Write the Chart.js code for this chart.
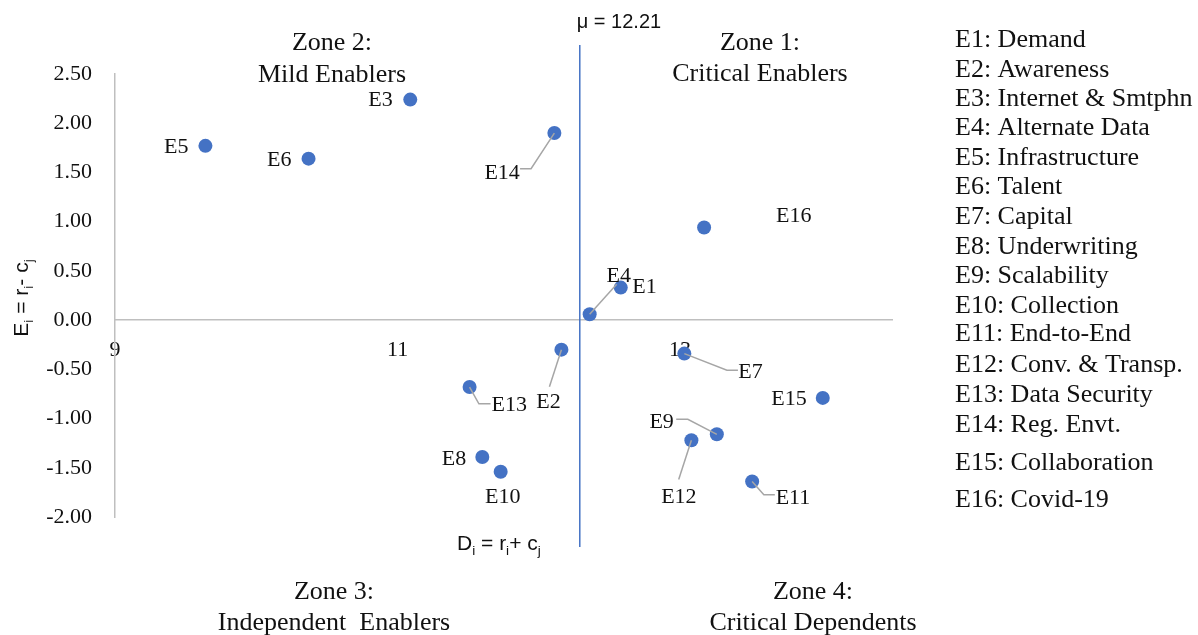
<!DOCTYPE html>
<html>
<head>
<meta charset="utf-8">
<script src="https://cdn.jsdelivr.net/npm/chart.js@4.4.1/dist/chart.umd.min.js"></script>
<style>
  html, body { margin: 0; padding: 0; background: #fff; }
  #wrap { width: 1198px; height: 635px; position: relative; }
</style>
</head>
<body>
<div id="wrap"><canvas id="irm"></canvas></div>
<script>
// enablers
const codes = ['E1', 'E2', 'E3', 'E4', 'E5', 'E6', 'E7', 'E8', 'E9', 'E10', 'E11', 'E12', 'E13', 'E14', 'E15', 'E16'];
const names = ['Demand', 'Awareness', 'Internet & Smtphn', 'Alternate Data', 'Infrastructure', 'Talent', 'Capital',
  'Underwriting', 'Scalability', 'Collection', 'End-to-End', 'Conv. & Transp.', 'Data Security', 'Reg. Envt.',
  'Collaboration', 'Covid-19'];
// D = r + c  (prominence)
const prominence = [12.58, 12.16, 11.09, 12.36, 9.64, 10.37, 13.03, 11.60, 13.26, 11.73, 13.51, 13.08, 11.51, 12.11, 14.01, 13.17];
// E = r - c  (relation)
const relation = [0.33, -0.30, 2.24, 0.06, 1.77, 1.64, -0.34, -1.39, -1.16, -1.54, -1.64, -1.22, -0.68, 1.90, -0.79, 0.94];

const muValue = 12.21;
const muLineAt = 12.29;   // where the mean line is drawn in the figure
const xTickValues = [9, 11, 13];
const yTickValues = [-2, -1.5, -1, -0.5, 0, 0.5, 1, 1.5, 2, 2.5];

const serif = '"Liberation Serif", "Times New Roman", serif';
const sans = '"Liberation Sans", Arial, sans-serif';
const dotColor = '#4472C4';
const leaderColor = '#A6A6A6';

// label offsets from each dot (px), with leader lines
const labelPlacement = [
  {dx: 11.5, dy: 0, align: 'left'},                                            // E1
  {dx: -13, dy: 53, align: 'center', leader: [[-12, 37], [0, 0]]},             // E2
  {dx: -17.5, dy: 1, align: 'right'},                                          // E3
  {dx: 29, dy: -38, align: 'center', leader: [[27, -30], [0, 0]]},             // E4
  {dx: -17, dy: 1.5, align: 'right'},                                          // E5
  {dx: -17, dy: 1.5, align: 'right'},                                          // E6
  {dx: 54, dy: 19, align: 'left', leader: [[0, 0], [42.6, 16.7], [53.6, 16.7]]},   // E7
  {dx: -16, dy: 2, align: 'right'},                                            // E8
  {dx: -43, dy: -12.5, align: 'right', leader: [[0, 0], [-29, -15], [-40.6, -15]]}, // E9
  {dx: 2, dy: 25.5, align: 'center'},                                          // E10
  {dx: 23.5, dy: 16.5, align: 'left', leader: [[0, 0], [11.7, 13.3], [22.7, 13.3]]}, // E11
  {dx: -12.5, dy: 57, align: 'center', leader: [[0, 0], [-12.7, 39.3]]},       // E12
  {dx: 22, dy: 18, align: 'left', leader: [[0, 0], [9.3, 16.7], [21, 16.7]]},  // E13
  {dx: -34.5, dy: 40, align: 'right', leader: [[0, 0], [-23.3, 35.6], [-34.3, 35.6]]}, // E14
  {dx: -16, dy: 1, align: 'right'},                                            // E15
  {dx: 72, dy: -11, align: 'left'}                                             // E16
];

const zoneTexts = [
  ['Zone 2:', 332, 43], ['Mild Enablers', 332, 75],
  ['Zone 1:', 760, 43], ['Critical Enablers', 760, 74],
  ['Zone 3:', 334, 592], ['Independent  Enablers', 334, 623],
  ['Zone 4:', 813, 592], ['Critical Dependents', 813, 623]
];
const legendY = [40, 70, 99, 128, 158, 187, 217, 247, 276, 306, 334, 365, 395, 425, 463, 500];

function richText(ctx, parts, x, y, size, align) {
  const widths = parts.map(p => {
    ctx.font = (p[1] ? size * 0.65 : size) + 'px ' + sans;
    return ctx.measureText(p[0]).width;
  });
  const total = widths.reduce((a, b) => a + b, 0);
  let cx = align === 'center' ? x - total / 2 : x;
  ctx.textAlign = 'left';
  ctx.textBaseline = 'alphabetic';
  parts.forEach((p, i) => {
    ctx.font = (p[1] ? size * 0.65 : size) + 'px ' + sans;
    ctx.fillText(p[0], cx, y + (p[1] ? size * 0.25 : 0));
    cx += widths[i];
  });
}

const decorations = {
  id: 'decorations',
  afterDatasetsDraw(chart) {
    const ctx = chart.ctx;
    const xs = chart.scales.x;
    const meta = chart.getDatasetMeta(0);
    ctx.save();

    // mean line
    const mx = xs.getPixelForValue(muLineAt);
    ctx.strokeStyle = dotColor;
    ctx.lineWidth = 1.5;
    ctx.beginPath();
    ctx.moveTo(mx, 45);
    ctx.lineTo(mx, 547);
    ctx.stroke();
    ctx.fillStyle = '#111';
    ctx.font = '20px ' + sans;
    ctx.textAlign = 'left';
    ctx.textBaseline = 'middle';
    ctx.fillText('\u03bc = ' + muValue.toFixed(2), mx - 3, 22);

    // point labels and leader lines
    meta.data.forEach((pt, i) => {
      const lp = labelPlacement[i];
      if (lp.leader) {
        ctx.strokeStyle = leaderColor;
        ctx.lineWidth = 1.5;
        ctx.beginPath();
        lp.leader.forEach((p, k) => {
          if (k === 0) ctx.moveTo(pt.x + p[0], pt.y + p[1]);
          else ctx.lineTo(pt.x + p[0], pt.y + p[1]);
        });
        ctx.stroke();
      }
      ctx.fillStyle = '#111';
      ctx.font = '22px ' + serif;
      ctx.textAlign = lp.align;
      ctx.textBaseline = 'middle';
      ctx.fillText(codes[i], pt.x + lp.dx, pt.y + lp.dy);
    });

    // zone captions
    ctx.font = '26px ' + serif;
    ctx.textAlign = 'center';
    ctx.textBaseline = 'middle';
    zoneTexts.forEach(z => ctx.fillText(z[0], z[1], z[2]));

    // legend list
    ctx.textAlign = 'left';
    codes.forEach((c, i) => ctx.fillText(c + ': ' + names[i], 955, legendY[i]));

    // axis titles
    ctx.fillStyle = '#111';
    richText(ctx, [['D', 0], ['i', 1], [' = r', 0], ['i', 1], ['+ c', 0], ['j', 1]], 457, 550, 21, 'left');
    ctx.save();
    ctx.translate(28, 298);
    ctx.rotate(-Math.PI / 2);
    richText(ctx, [['E', 0], ['i', 1], [' = r', 0], ['i', 1], ['- c', 0], ['j', 1]], 0, 0, 21, 'center');
    ctx.restore();

    ctx.restore();
  }
};

const points = prominence.map((x, i) => ({x: x, y: relation[i]}));

new Chart(document.getElementById('irm'), {
  type: 'scatter',
  data: {
    datasets: [{
      data: points,
      backgroundColor: dotColor,
      borderWidth: 0,
      pointRadius: 7,
      pointHoverRadius: 7,
      clip: false
    }]
  },
  options: {
    responsive: true,
    maintainAspectRatio: false,
    animation: false,
    layout: { padding: { left: 0, top: 74, right: 306, bottom: 118 } },
    plugins: { legend: { display: false }, tooltip: { enabled: false } },
    scales: {
      x: {
        type: 'linear',
        position: { y: 0 },
        min: 9,
        max: 14.5,
        afterBuildTicks: s => { s.ticks = xTickValues.map(v => ({value: v})); },
        grid: { display: false, drawTicks: true, tickLength: 17 },
        border: { display: true, color: '#BFBFBF', width: 1.5 },
        ticks: { padding: 0, color: '#111', font: { family: serif, size: 22 }, callback: v => String(v) }
      },
      y: {
        type: 'linear',
        min: -2,
        max: 2.5,
        afterBuildTicks: s => { s.ticks = yTickValues.map(v => ({value: v})); },
        afterFit: s => { s.width = 115; },
        grid: { display: false, drawTicks: false },
        border: { display: true, color: '#BFBFBF', width: 1.5 },
        ticks: { padding: 23, color: '#111', font: { family: serif, size: 22 }, callback: v => v.toFixed(2) }
      }
    }
  },
  plugins: [decorations]
});
</script>
</body>
</html>
